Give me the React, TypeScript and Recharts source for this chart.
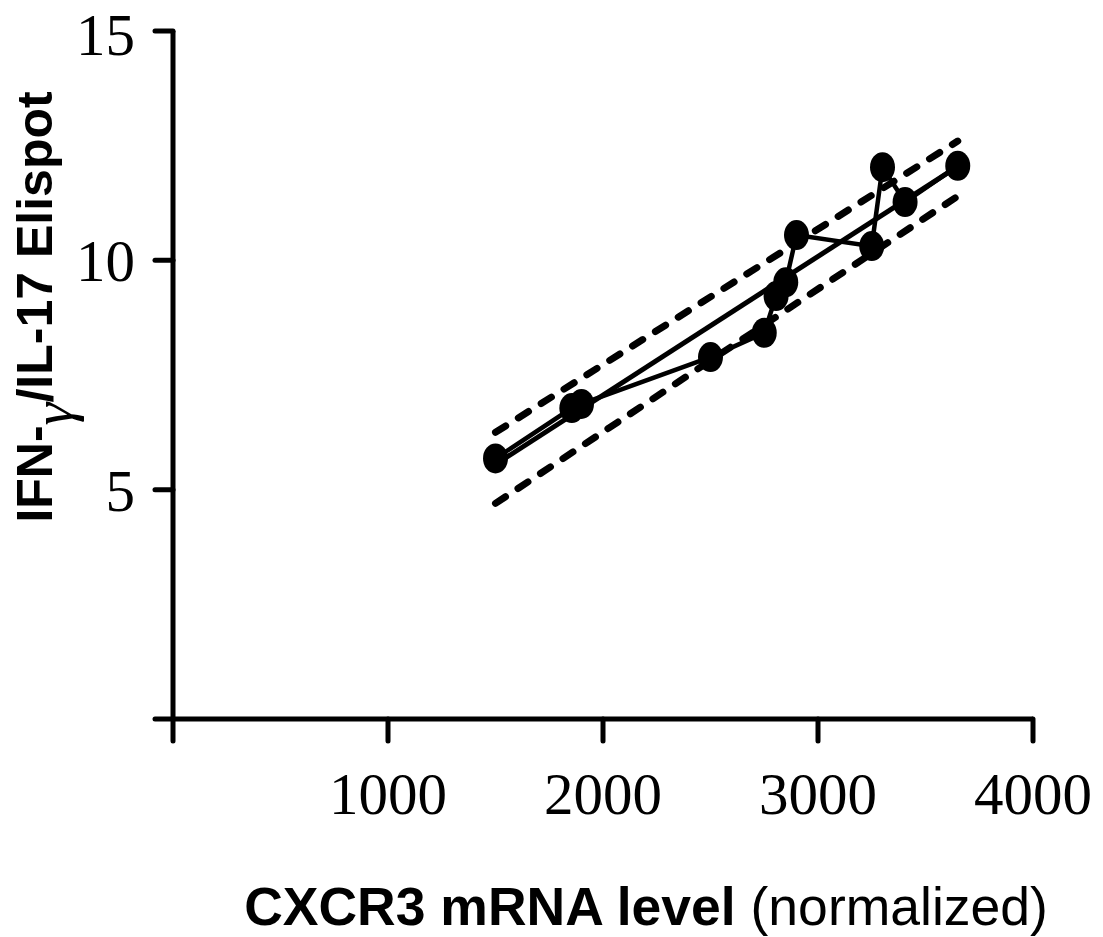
import React from 'react';
import { ComposedChart, Line, XAxis, YAxis } from 'recharts';

// measured points
const cxcr3 = [1500, 1855, 1900, 2500, 2750, 2805, 2850, 2900, 3250, 3300, 3405, 3650];
const elispot = [5.68, 6.78, 6.87, 7.89, 8.42, 9.22, 9.52, 10.55, 10.31, 12.03, 11.27, 12.06];

// regression line and confidence band ends
const fitX = [1500, 3650];
const fitY = [5.55, 12.05];
const upperY = [6.25, 12.6];
const lowerY = [4.7, 11.4];

const xTicks = [0, 1000, 2000, 3000, 4000];
const yTicks = [0, 5, 10, 15];

const serif = '"Liberation Serif", "Times New Roman", serif';
const sans = '"Liberation Sans", Arial, sans-serif';

const points = cxcr3.map((x, i) => ({ x, y: elispot[i] }));
const fit = fitX.map((x, i) => ({ x, y: fitY[i] }));
const upper = fitX.map((x, i) => ({ x, y: upperY[i] }));
const lower = fitX.map((x, i) => ({ x, y: lowerY[i] }));

const Dot = (props: any) => {
  const { cx, cy } = props;
  if (cx == null || cy == null) return null;
  return <ellipse cx={cx} cy={cy} rx={12.5} ry={15} fill="#000" />;
};

const XLabel = (props: any) => {
  const vb = props.viewBox;
  return (
    <text
      x={vb.x + vb.width / 2 + 43}
      y={925}
      textAnchor="middle"
      fontFamily={sans}
      fontSize={53.5}
      fill="#000"
    >
      <tspan fontWeight="bold">CXCR3 mRNA level</tspan>
      <tspan> (normalized)</tspan>
    </text>
  );
};

const YLabel = (props: any) => {
  const vb = props.viewBox;
  const cy = vb.y + vb.height / 2 - 68;
  return (
    <text
      transform={`translate(52, ${cy}) rotate(-90)`}
      x={0}
      y={0}
      textAnchor="middle"
      fontFamily={sans}
      fontSize={50}
      fontWeight="bold"
      fill="#000"
    >
      <tspan>IFN-</tspan>
      <tspan fontFamily={serif} fontWeight="normal" fontStyle="italic" fontSize={58} dy={20}>γ</tspan>
      <tspan dy={-20}>/IL-17 Elispot</tspan>
    </text>
  );
};

const axisStyle = { stroke: '#000', strokeWidth: 5 };

const App = () => {
  return (
    <div style={{ position: 'absolute', left: 0, top: 0, background: '#fff' }}>
      <ComposedChart
        width={1103}
        height={937}
        margin={{ top: 31, right: 70, left: 73, bottom: 0 }}
      >
        <XAxis
          type="number"
          dataKey="x"
          domain={[0, 4000]}
          ticks={xTicks}
          tickFormatter={(v: number) => (v === 0 ? '' : String(v))}
          height={218}
          tickSize={22}
          tickMargin={31}
          stroke="#000"
          strokeWidth={5}
          axisLine={axisStyle}
          tickLine={{ ...axisStyle, strokeLinecap: 'round' }}
          tick={{ fill: '#000', fontFamily: serif, fontSize: 59, strokeWidth: 0 }}
          allowDataOverflow
          label={<XLabel />}
        />
        <YAxis
          type="number"
          dataKey="y"
          domain={[0, 15]}
          ticks={yTicks}
          tickFormatter={(v: number) => (v === 0 ? '' : String(v))}
          width={100}
          tickSize={18}
          tickMargin={20}
          stroke="#000"
          strokeWidth={5}
          axisLine={axisStyle}
          tickLine={{ ...axisStyle, strokeLinecap: 'round' }}
          tick={{ fill: '#000', fontFamily: serif, fontSize: 59, strokeWidth: 0 }}
          allowDataOverflow
          label={<YLabel />}
        />
        <Line
          data={upper}
          dataKey="y"
          stroke="#000"
          strokeWidth={7}
          strokeDasharray="12 15"
          strokeLinecap="round"
          dot={false}
          activeDot={false}
          isAnimationActive={false}
        />
        <Line
          data={lower}
          dataKey="y"
          stroke="#000"
          strokeWidth={7}
          strokeDasharray="12 15"
          strokeLinecap="round"
          dot={false}
          activeDot={false}
          isAnimationActive={false}
        />
        <Line
          data={fit}
          dataKey="y"
          stroke="#000"
          strokeWidth={5}
          dot={false}
          activeDot={false}
          isAnimationActive={false}
        />
        <Line
          data={points}
          dataKey="y"
          stroke="#000"
          strokeWidth={4.5}
          dot={<Dot />}
          activeDot={false}
          isAnimationActive={false}
        />
      </ComposedChart>
    </div>
  );
};

export default App;
